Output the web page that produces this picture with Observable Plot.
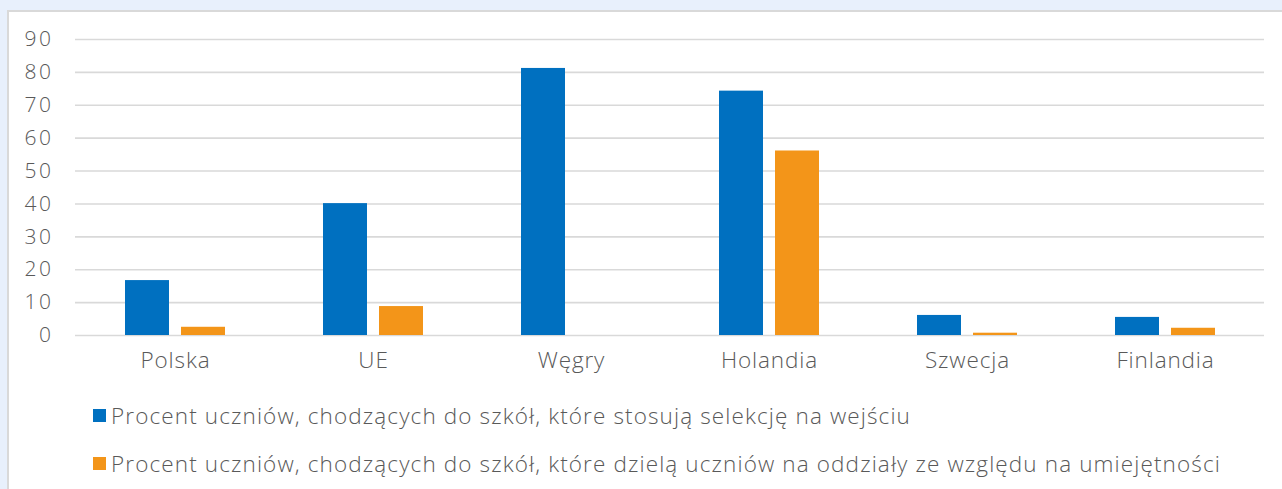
<!DOCTYPE html>
<html><head><meta charset="utf-8">
<script src="https://cdn.jsdelivr.net/npm/d3@7"></script>
<script src="https://cdn.jsdelivr.net/npm/@observablehq/plot@0.6"></script>
<style>
html,body{margin:0;padding:0;}
body{width:1282px;height:489px;background:#e8f0fc;position:relative;overflow:hidden;font-family:"Open Sans",sans-serif;font-weight:300;}
#panel{position:absolute;left:7px;top:10px;right:0;bottom:0;background:#fff;border-top:2px solid #d9d9d9;border-left:2px solid #d9d9d9;}
#chart{position:absolute;left:0;top:0;}
.leg{position:absolute;left:93px;height:24px;font-size:22.5px;color:#595959;white-space:nowrap;display:flex;align-items:center;}
.sw{width:13px;height:13px;margin-right:5px;display:inline-block;flex:none;}
</style></head>
<body>
<div id="panel"></div>
<div id="chart"></div>
<div class="leg" style="top:403px"><span class="sw" style="background:#0070c0"></span><span id="l1"></span></div>
<div class="leg" style="top:451px"><span class="sw" style="background:#f39519"></span><span id="l2"></span></div>
<script>
const countries = ["Polska", "UE", "Węgry", "Holandia", "Szwecja", "Finlandia"];
const seriesNames = [
  "Procent uczniów, chodzących do szkół, które stosują selekcję na wejściu",
  "Procent uczniów, chodzących do szkół, które dzielą uczniów na oddziały ze względu na umiejętności"
];
const selekcja = [16.7, 40.1, 81.2, 74.3, 6.1, 5.5];
const oddzialy = [2.5, 8.8, 0, 56.1, 0.7, 2.2];
const yTicks = [0, 10, 20, 30, 40, 50, 60, 70, 80, 90];
const colors = ["#0070c0", "#f39519"];

const FONT = '"Open Sans", sans-serif';
const ctx = document.createElement("canvas").getContext("2d");
function spacingFor(text, size, target) {
  ctx.font = `300 ${size}px ${FONT}`;
  const w = ctx.measureText(text).width;
  return (target - w) / text.length;
}
const yLS = spacingFor("90", 21, 29);
const xLS = spacingFor("Holandia", 22.5, 97);
const legLS = spacingFor(seriesNames[0], 22.5, 800);

const l1 = document.getElementById("l1"), l2 = document.getElementById("l2");
l1.textContent = seriesNames[0];
l2.textContent = seriesNames[1];
l1.style.letterSpacing = l2.style.letterSpacing = legLS + "px";

const d1 = countries.map((c, i) => ({country: c, value: selekcja[i]}));
const d2 = countries.map((c, i) => ({country: c, value: oddzialy[i]}));

const chart = Plot.plot({
  width: 1282,
  height: 390,
  marginLeft: 75,
  marginRight: 18,
  marginTop: 39,
  marginBottom: 55,
  style: {background: "transparent", fontFamily: FONT, fontWeight: 300, color: "#595959"},
  x: {domain: countries, padding: 0, label: null},
  y: {domain: [0, 90], label: null},
  marks: [
    Plot.ruleY(yTicks, {stroke: "#d9d9d9", strokeWidth: 1.6}),
    Plot.barY(d1, {x: "country", y: "value", fill: colors[0], insetLeft: 49, insetRight: 105}),
    Plot.barY(d2.filter(d => d.value > 0), {x: "country", y: "value", fill: colors[1], insetLeft: 105, insetRight: 49}),
    Plot.axisY({ticks: yTicks, tickSize: 0, tickPadding: 22, fontSize: 21, label: null, fill: "#595959"}),
    Plot.axisX({tickSize: 0, tickPadding: 17, fontSize: 22.5, label: null, fill: "#595959"})
  ]
});
chart.querySelectorAll("g[aria-label='y-axis tick label'] text").forEach(t => t.setAttribute("letter-spacing", yLS));
chart.querySelectorAll("g[aria-label='x-axis tick label'] text").forEach(t => t.setAttribute("letter-spacing", xLS));
document.getElementById("chart").appendChild(chart);
</script>
</body></html>
